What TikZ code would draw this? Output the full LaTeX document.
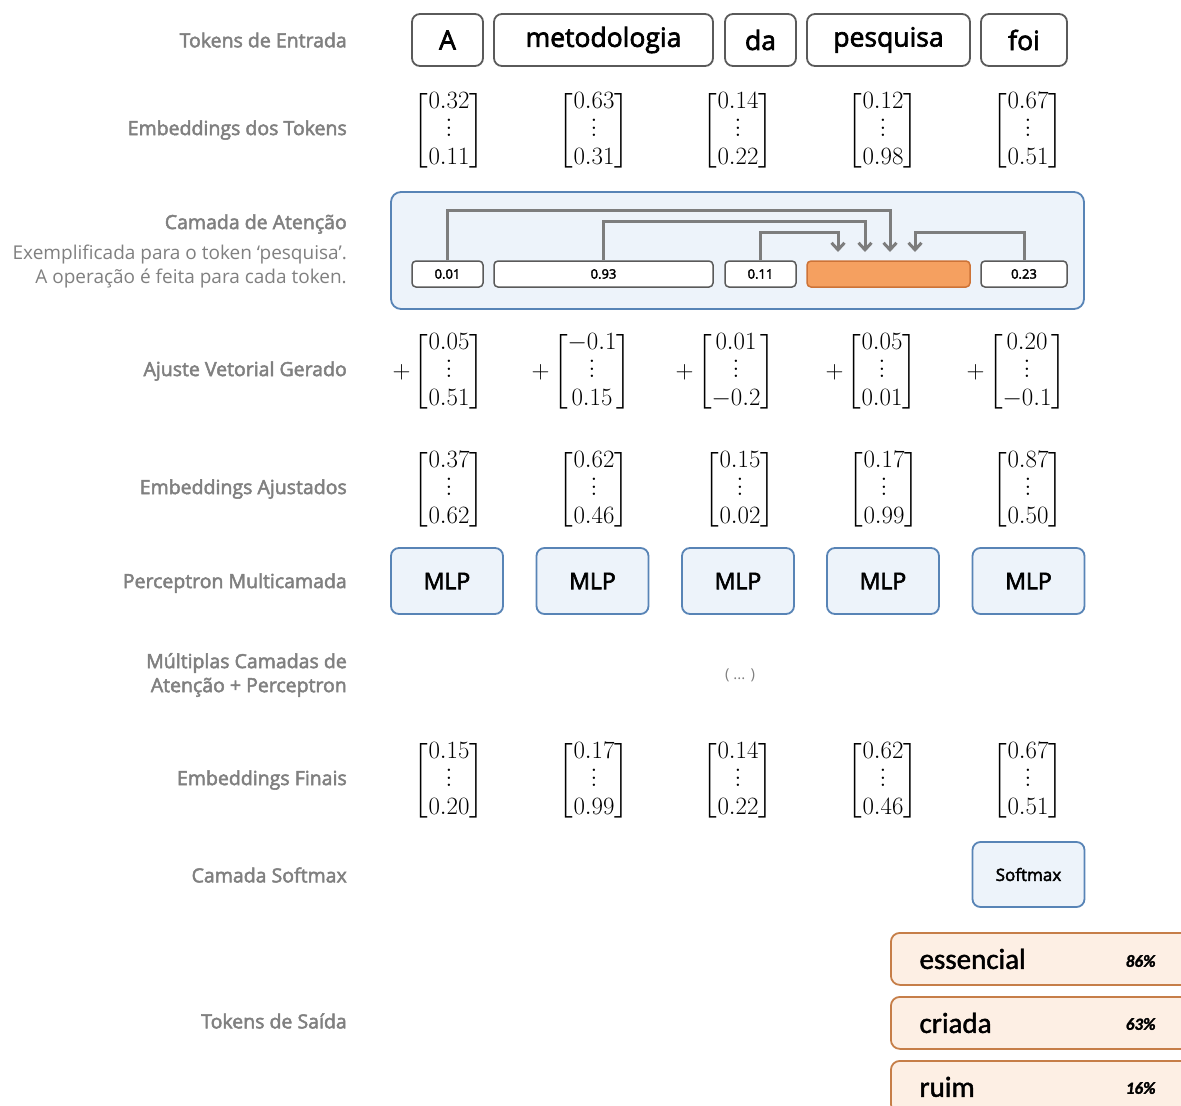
\documentclass[tikz,border=0pt]{standalone}
\usepackage{amsmath}
\usepackage{fontspec}
\setmainfont{Open Sans}
\newfontfamily\labelfont{Open Sans}[FakeBold=2.5]
\newfontfamily\calib{Carlito}[FakeBold=1.5]
\usetikzlibrary{arrows.meta,positioning}
\definecolor{lblgray}{RGB}{128,128,128}
\definecolor{edgegray}{RGB}{90,90,90}
\definecolor{arrowgray}{RGB}{125,125,125}
\definecolor{cellblue}{RGB}{237,243,250}
\definecolor{rimblue}{RGB}{88,132,182}
\definecolor{hotfill}{RGB}{245,160,96}
\definecolor{hotrim}{RGB}{205,115,55}
\definecolor{outfill}{RGB}{253,239,228}
\definecolor{outrim}{RGB}{198,126,72}
\newcommand{\bigvdots}{\vbox{\baselineskip=7.5pt\lineskiplimit=0pt\hbox{$.$}\hbox{$.$}\hbox{$.$}}}
\newcommand{\emb}[2]{\delimiterfactor=850\delimitershortfall=14pt$\begin{bmatrix}#1\\\bigvdots\\#2\end{bmatrix}$}
\tikzset{rowlabel/.style={anchor=east,text=lblgray,font=\labelfont\fontsize{19.5}{24}\selectfont,inner sep=0pt},
 sublabel/.style={anchor=east,align=right,text=lblgray,font=\fontsize{19}{24}\selectfont,inner sep=0pt},
 token/.style={draw=edgegray,line width=1.8pt,rounded corners=8pt,fill=white,minimum height=52pt,inner sep=0pt,font=\labelfont\fontsize{26.5}{28}\selectfont},
 weight/.style={draw=edgegray,line width=1.5pt,rounded corners=4pt,fill=white,minimum height=26pt,inner sep=0pt,font=\labelfont\fontsize{13}{15}\selectfont},
 vecbox/.style={inner sep=0pt,font=\fontsize{24}{28}\selectfont},
 plus/.style={inner sep=0pt,font=\fontsize{24}{28}\selectfont},
 mlpbox/.style={draw=rimblue,fill=cellblue,line width=1.8pt,rounded corners=8pt,minimum width=112pt,minimum height=66pt,font=\labelfont\fontsize{23}{26}\selectfont},
 outbox/.style={draw=outrim,fill=outfill,line width=1.8pt,rounded corners=9pt,anchor=north west,minimum width=300pt,minimum height=52pt},
 outword/.style={anchor=west,font=\calib\fontsize{29}{32}\selectfont},
 outpct/.style={anchor=east,font=\calib\bfseries\itshape\fontsize{17}{20}\selectfont},
 attn/.style={draw=arrowgray,line width=3pt,-{Straight Barb[length=7pt,width=13pt]}}}
\begin{document}
\begin{tikzpicture}[x=1pt,y=-1pt]
\useasboundingbox (0,0) rectangle (1181,1106);
\path[fill=white] (0,0) rectangle (1181,1106);
\clip (0,0) rectangle (1181,1106);
% row labels
\node[rowlabel] (lblin) at (347,40) {Tokens de Entrada};
\node[rowlabel] (lblemb) at (347,130) {Embeddings dos Tokens};
\node[rowlabel] (lblatt) at (347,224) {Camada de Atenção};
\node[sublabel] (lblattsub) at (347,267) {Exemplificada para o token ‘pesquisa’.\\A operação é feita para cada token.};
\node[rowlabel] (lbladj) at (347,371) {Ajuste Vetorial Gerado};
\node[rowlabel] (lblfit) at (347,489) {Embeddings Ajustados};
\node[rowlabel] (lblmlp) at (347,583) {Perceptron Multicamada};
\node[rowlabel,align=right] (lblmulti) at (347,675) {Múltiplas Camadas de\\Atenção + Perceptron};
\node[rowlabel] (lblfin) at (347,780) {Embeddings Finais};
\node[rowlabel] (lblsoft) at (347,875) {Camada Softmax};
\node[rowlabel] (lblout) at (347,1021) {Tokens de Saída};
% input tokens
\node[token,minimum width=71pt] (t1) at (447.5,40) {A};
\node[token,minimum width=219pt] (t2) at (603.5,40) {metodologia};
\node[token,minimum width=71pt] (t3) at (760.5,40) {da};
\node[token,minimum width=163pt] (t4) at (888.5,40) {pesquisa};
\node[token,minimum width=86pt] (t5) at (1024,40) {foi};
% token embeddings
\node[vecbox] (e1) at (449,131) {\emb{0.32}{0.11}};
\node[vecbox] (e2) at (594,131) {\emb{0.63}{0.31}};
\node[vecbox] (e3) at (738,131) {\emb{0.14}{0.22}};
\node[vecbox] (e4) at (883,131) {\emb{0.12}{0.98}};
\node[vecbox] (e5) at (1028,131) {\emb{0.67}{0.51}};
% attention layer
\node[draw=rimblue,fill=cellblue,line width=1.8pt,rounded corners=10pt,minimum width=693pt,minimum height=117pt] (attbox) at (737.5,250.5) {};
\node[weight,minimum width=71pt] (w1) at (447.5,274) {0.01};
\node[weight,minimum width=219pt] (w2) at (603.5,274) {0.93};
\node[weight,minimum width=71pt] (w3) at (760.5,274) {0.11};
\node[weight,minimum width=163pt,draw=hotrim,fill=hotfill] (w4) at (888.5,274) {};
\node[weight,minimum width=86pt] (w5) at (1024,274) {0.23};
\coordinate (a1) at (890,252);
\coordinate (a2) at (865,252);
\coordinate (a3) at (838,252);
\coordinate (a5) at (915,252);
\draw[attn] (w1.north) -- ++(0,-50) -| (a1);
\draw[attn] (w2.north) -- ++(0,-39) -| (a2);
\draw[attn] (w3.north) -- ++(0,-28) -| (a3);
\draw[attn] (w5.north) -- ++(0,-28) -| (a5);
% generated adjustment
\node[vecbox] (d1) at (449,372) {\emb{0.05}{0.51}};
\node[vecbox] (d2) at (592,372) {\emb{-0.1}{0.15}};
\node[vecbox] (d3) at (736,372) {\emb{0.01}{-0.2}};
\node[vecbox] (d4) at (882,372) {\emb{0.05}{0.01}};
\node[vecbox] (d5) at (1027,372) {\emb{0.20}{-0.1}};
\node[plus,left=3pt of d1] (p1) {$+$};
\node[plus,left=3pt of d2] (p2) {$+$};
\node[plus,left=3pt of d3] (p3) {$+$};
\node[plus,left=3pt of d4] (p4) {$+$};
\node[plus,left=3pt of d5] (p5) {$+$};
% adjusted embeddings
\node[vecbox] (f1) at (449,490) {\emb{0.37}{0.62}};
\node[vecbox] (f2) at (594,490) {\emb{0.62}{0.46}};
\node[vecbox] (f3) at (740,490) {\emb{0.15}{0.02}};
\node[vecbox] (f4) at (884,490) {\emb{0.17}{0.99}};
\node[vecbox] (f5) at (1028,490) {\emb{0.87}{0.50}};
% perceptron
\node[mlpbox] (m1) at (447,581) {MLP};
\node[mlpbox] (m2) at (592.5,581) {MLP};
\node[mlpbox] (m3) at (738,581) {MLP};
\node[mlpbox] (m4) at (883,581) {MLP};
\node[mlpbox] (m5) at (1028.5,581) {MLP};
\node[text=lblgray,font=\fontsize{15}{17}\selectfont] (gap) at (740,675) {( ... )};
% final embeddings
\node[vecbox] (g1) at (449,781) {\emb{0.15}{0.20}};
\node[vecbox] (g2) at (594,781) {\emb{0.17}{0.99}};
\node[vecbox] (g3) at (738,781) {\emb{0.14}{0.22}};
\node[vecbox] (g4) at (883,781) {\emb{0.62}{0.46}};
\node[vecbox] (g5) at (1028,781) {\emb{0.67}{0.51}};
% softmax and output
\node[mlpbox,minimum height=65pt,font=\labelfont\fontsize{17}{20}\selectfont] (soft) at (1028.5,874.5) {Softmax};
\node[outbox] (o1) at (890,932) {};
\node[outbox] (o2) at (890,996) {};
\node[outbox] (o3) at (890,1060) {};
\node[outword] (ow1) at ([xshift=26pt]o1.west) {essencial};
\node[outword] (ow2) at ([xshift=26pt]o2.west) {criada};
\node[outword] (ow3) at ([xshift=26pt]o3.west) {ruim};
\node[outpct] (op1) at (1159,961) {86\%};
\node[outpct] (op2) at (1159,1024) {63\%};
\node[outpct] (op3) at (1159,1088) {16\%};
\end{tikzpicture}
\end{document}
